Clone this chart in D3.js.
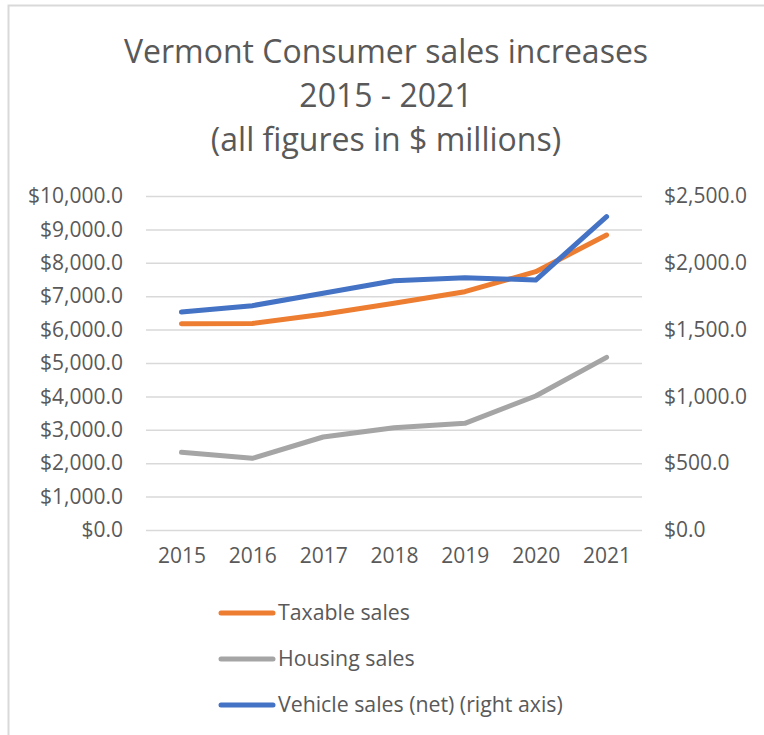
<!DOCTYPE html>
<html>
<head>
<meta charset="utf-8">
<script src="https://d3js.org/d3.v7.min.js"></script>
<style>
  body { margin: 0; background: #fff; }
  text { font-family: "Open Sans", sans-serif; fill: #595959; }
</style>
</head>
<body>
<div id="chart"></div>
<script>
// data ($ millions)
const years = ["2015", "2016", "2017", "2018", "2019", "2020", "2021"];
const taxableSales = [6177, 6185, 6458, 6787, 7135, 7734, 8832];
const housingSales = [2325, 2145, 2784, 3064, 3194, 4012, 5170];
const vehicleSales = [1632, 1679, 1772, 1866, 1889, 1871, 2345]; // right axis
const leftTicks = [0, 1000, 2000, 3000, 4000, 5000, 6000, 7000, 8000, 9000, 10000];
const rightTicks = [0, 500, 1000, 1500, 2000, 2500];
const titleLines = ["Vermont Consumer sales increases", "2015 - 2021", "(all figures in $ millions)"];

const series = [
  { name: "Taxable sales", values: taxableSales, color: "#ED7D31", axis: "left" },
  { name: "Housing sales", values: housingSales, color: "#A5A5A5", axis: "left" },
  { name: "Vehicle sales (net) (right axis)", values: vehicleSales, color: "#4472C4", axis: "right" }
];

const width = 764, height = 735;
const plot = { left: 146, right: 642, top: 196, bottom: 530 };

const svg = d3.select("#chart").append("svg")
  .attr("width", width)
  .attr("height", height);

// chart frame (only top and left edges are visible in the picture)
svg.append("rect")
  .attr("x", 8.5).attr("y", 5.5)
  .attr("width", 800).attr("height", 800)
  .attr("fill", "none")
  .attr("stroke", "#D9D9D9")
  .attr("stroke-width", 2);

// title
svg.append("g").selectAll("text")
  .data(titleLines)
  .enter()
  .append("text")
  .attr("x", 386)
  .attr("y", (d, i) => 63 + i * 44)
  .attr("text-anchor", "middle")
  .style("font-size", "32px")
  .text(d => d);

const x = d3.scalePoint()
  .domain(years)
  .range([plot.left, plot.right])
  .padding(0.5);

const yLeft = d3.scaleLinear().domain([0, 10000]).range([plot.bottom, plot.top]);
const yRight = d3.scaleLinear().domain([0, 2500]).range([plot.bottom, plot.top]);

const money = d3.format("$,.1f");

// gridlines
svg.append("g")
  .attr("transform", `translate(${plot.left},0)`)
  .call(d3.axisRight(yLeft).tickValues(leftTicks).tickSize(plot.right - plot.left).tickFormat(""))
  .call(g => g.select(".domain").remove())
  .call(g => g.selectAll("line").attr("stroke", "#D9D9D9").attr("stroke-width", 1.5));

// left axis
svg.append("g")
  .attr("transform", "translate(123,0)")
  .call(d3.axisLeft(yLeft).tickValues(leftTicks).tickSize(0).tickPadding(0).tickFormat(money))
  .call(g => g.select(".domain").remove())
  .call(g => g.selectAll("text").style("font-size", "21px").attr("fill", "#595959"));

// right axis
svg.append("g")
  .attr("transform", "translate(664,0)")
  .call(d3.axisRight(yRight).tickValues(rightTicks).tickSize(0).tickPadding(0).tickFormat(money))
  .call(g => g.select(".domain").remove())
  .call(g => g.selectAll("text").style("font-size", "21px").attr("fill", "#595959"));

// x axis labels
svg.append("g")
  .attr("transform", "translate(0,548)")
  .call(d3.axisBottom(x).tickSize(0).tickPadding(0))
  .call(g => g.select(".domain").remove())
  .call(g => g.selectAll("text").style("font-size", "21px").attr("fill", "#595959"));

// lines
series.forEach(s => {
  const y = s.axis === "left" ? yLeft : yRight;
  const line = d3.line()
    .x((d, i) => x(years[i]))
    .y(d => y(d));
  svg.append("path")
    .datum(s.values)
    .attr("d", line)
    .attr("fill", "none")
    .attr("stroke", s.color)
    .attr("stroke-width", 5)
    .attr("stroke-linecap", "round")
    .attr("stroke-linejoin", "round");
});

// legend
const legend = svg.append("g").selectAll("g")
  .data(series)
  .enter()
  .append("g")
  .attr("transform", (d, i) => `translate(221,${613 + i * 46})`);

legend.append("line")
  .attr("x1", 0).attr("x2", 52)
  .attr("stroke", d => d.color)
  .attr("stroke-width", 5)
  .attr("stroke-linecap", "round");

legend.append("text")
  .attr("x", 57)
  .attr("dy", "0.35em")
  .style("font-size", "21.3px")
  .text(d => d.name);
</script>
</body>
</html>
